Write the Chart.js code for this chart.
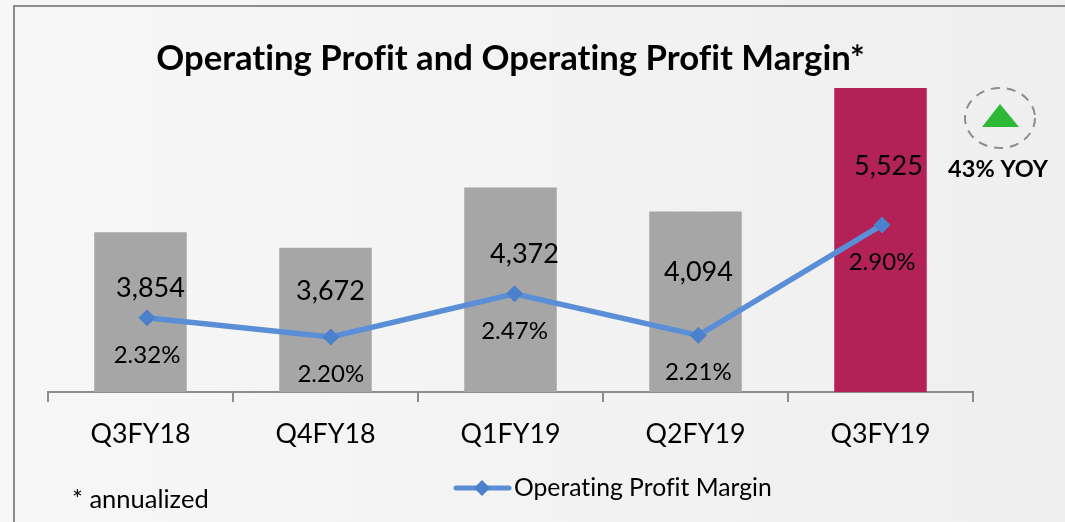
<!DOCTYPE html>
<html>
<head>
<meta charset="utf-8">
<style>
  html, body { margin: 0; padding: 0; background: #f3f3f3; }
  canvas { display: block; }
</style>
<script src="https://cdn.jsdelivr.net/npm/chart.js@4/dist/chart.umd.min.js"></script>
</head>
<body>
<canvas id="profit" width="1065" height="522"></canvas>
<script>
var quarters = ['Q3FY18', 'Q4FY18', 'Q1FY19', 'Q2FY19', 'Q3FY19'];
var operatingProfit = [3854, 3672, 4372, 4094, 5525];
var profitMargin = [2.32, 2.20, 2.47, 2.21, 2.90];
var barColors = ['#a6a6a6', '#a6a6a6', '#a6a6a6', '#a6a6a6', '#b32257'];

// bar labels sit inside the bars at hand placed spots
var barLabelShift = [[10, 56], [5, 43], [14, 67], [3, 61], [8, 78]];

var fontName = 'Lato, "Open Sans", sans-serif';

// Frame, background and the loose text around the chart
var decorations = {
  id: 'decorations',
  beforeDraw: function (chart) {
    var ctx = chart.ctx;
    var bg = ctx.createLinearGradient(0, 0, chart.width, 0);
    bg.addColorStop(0, '#f7f7f7');
    bg.addColorStop(1, '#efefef');
    // tiny spacing switches off the ti ligature in Lato
    ctx.letterSpacing = '0.01px';
    ctx.save();
    ctx.fillStyle = bg;
    ctx.fillRect(0, 0, chart.width, chart.height);
    ctx.strokeStyle = '#8c8c8c';
    ctx.lineWidth = 2;
    ctx.beginPath();
    ctx.moveTo(14, chart.height);
    ctx.lineTo(14, 6);
    ctx.lineTo(chart.width, 6);
    ctx.stroke();
    ctx.restore();
  },
  afterDraw: function (chart) {
    var ctx = chart.ctx;
    ctx.save();

    // up arrow in dashed circle
    ctx.strokeStyle = '#8c8c8c';
    ctx.lineWidth = 2;
    ctx.setLineDash([9, 7]);
    ctx.beginPath();
    ctx.ellipse(1000, 118, 35, 30, 0, 0, Math.PI * 2);
    ctx.stroke();
    ctx.setLineDash([]);
    ctx.fillStyle = '#2db935';
    ctx.beginPath();
    ctx.moveTo(982, 127);
    ctx.lineTo(1019, 127);
    ctx.lineTo(1000, 104);
    ctx.closePath();
    ctx.fill();

    ctx.fillStyle = '#000';
    ctx.textAlign = 'center';
    ctx.textBaseline = 'middle';
    ctx.font = 'bold 23.5px ' + fontName;
    ctx.fillText('43% YOY', 998, 169);

    ctx.textAlign = 'left';
    ctx.font = '25.5px ' + fontName;
    ctx.fillText('* annualized', 72, 500);

    // legend
    ctx.strokeStyle = '#5a8fd8';
    ctx.lineWidth = 5;
    ctx.lineCap = 'round';
    ctx.beginPath();
    ctx.moveTo(456, 488);
    ctx.lineTo(509, 488);
    ctx.stroke();
    ctx.fillStyle = '#4a80cc';
    ctx.beginPath();
    ctx.moveTo(482, 480);
    ctx.lineTo(490, 488);
    ctx.lineTo(482, 496);
    ctx.lineTo(474, 488);
    ctx.closePath();
    ctx.fill();
    ctx.fillStyle = '#000';
    ctx.font = '24.7px ' + fontName;
    ctx.fillText('Operating Profit Margin', 514, 488);

    ctx.restore();
  }
};

var valueLabels = {
  id: 'valueLabels',
  afterDatasetsDraw: function (chart) {
    var ctx = chart.ctx;
    var bars = chart.getDatasetMeta(0).data;
    var points = chart.getDatasetMeta(1).data;
    ctx.save();
    ctx.fillStyle = '#000';
    ctx.textAlign = 'center';
    ctx.textBaseline = 'middle';
    ctx.font = '27px ' + fontName;
    bars.forEach(function (bar, i) {
      ctx.fillText(operatingProfit[i].toLocaleString('en-US'), bar.x + barLabelShift[i][0], bar.y + barLabelShift[i][1]);
    });
    ctx.font = '24px ' + fontName;
    points.forEach(function (point, i) {
      ctx.fillText(profitMargin[i].toFixed(2) + '%', point.x, point.y + 37);
    });
    ctx.restore();
  }
};

var profit = document.getElementById('profit').getContext('2d');
new Chart(profit, {
  data: {
    labels: quarters,
    datasets: [
      {
        type: 'bar',
        label: 'Operating Profit',
        data: operatingProfit,
        backgroundColor: barColors,
        grouped: false,
        categoryPercentage: 1,
        barPercentage: 0.5,
        order: 2
      },
      {
        type: 'line',
        label: 'Operating Profit Margin',
        data: profitMargin.map(function (v, i) { return { x: i, y: v }; }),
        xAxisID: 'xLine',
        yAxisID: 'yMargin',
        borderColor: '#5a8fd8',
        borderWidth: 5.5,
        pointStyle: 'rectRot',
        pointRadius: 8,
        pointBackgroundColor: '#4a80cc',
        pointBorderColor: '#4a80cc',
        pointBorderWidth: 1,
        tension: 0,
        order: 1
      }
    ]
  },
  options: {
    responsive: false,
    animation: false,
    layout: { padding: { left: 48, right: 92, top: 0, bottom: 0 } },
    plugins: {
      legend: { display: false },
      tooltip: { enabled: false },
      title: {
        display: true,
        fullSize: false,
        text: 'Operating Profit and Operating Profit Margin*',
        color: '#000',
        font: { family: fontName, size: 34.7, weight: 'bold' },
        padding: { top: 38, bottom: 0.4 }
      }
    },
    scales: {
      x: {
        type: 'category',
        offset: true,
        border: { color: '#8c8c8c', width: 2 },
        grid: { offset: true, drawOnChartArea: false, drawTicks: true, tickLength: 10, color: '#8c8c8c', lineWidth: 2 },
        ticks: { color: '#000', padding: 16, font: { family: fontName, size: 26.8 } },
        afterFit: function (scale) { scale.height = 130; }
      },
      xLine: {
        type: 'linear',
        display: false,
        min: -0.539,
        max: 4.495
      },
      y: {
        display: false,
        min: 2000,
        max: 5618
      },
      yMargin: {
        display: false,
        position: 'right',
        min: 1.856,
        max: 3.806
      }
    }
  },
  plugins: [decorations, valueLabels]
});
</script>
</body>
</html>
